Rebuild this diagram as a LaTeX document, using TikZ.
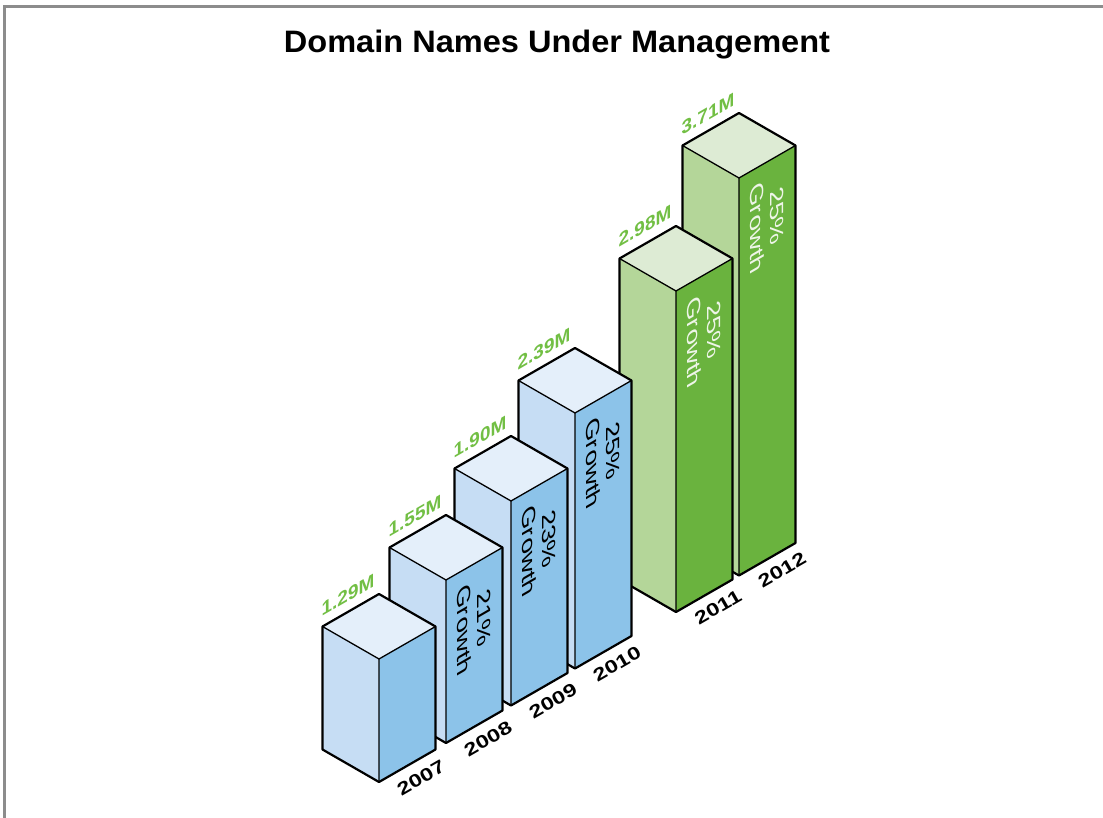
\documentclass[tikz,border=0pt]{standalone}
\usepackage{fontspec}
\setmainfont{Liberation Sans}
\definecolor{bluetop}{HTML}{E4EFFA}
\definecolor{blueleft}{HTML}{C6DDF4}
\definecolor{blueright}{HTML}{8CC3E9}
\definecolor{greentop}{HTML}{DDEBD4}
\definecolor{greenleft}{HTML}{B4D699}
\definecolor{greenright}{HTML}{6AB33E}
\definecolor{valgreen}{HTML}{72BF44}
\definecolor{framegray}{HTML}{8C8C8C}
\definecolor{growthwhite}{HTML}{EEF5E8}
\newcommand{\drawbar}[6]{%
  \fill[#4] (#1,#2) -- ({#1-56.5},{#2-32.5}) -- ({#1-56.5},{#2-32.5-#3}) -- (#1,{#2-#3}) -- cycle;
  \fill[#5] (#1,#2) -- ({#1+56.5},{#2-32.5}) -- ({#1+56.5},{#2-32.5-#3}) -- (#1,{#2-#3}) -- cycle;
  \fill[#6] (#1,{#2-#3}) -- ({#1-56.5},{#2-32.5-#3}) -- (#1,{#2-65-#3}) -- ({#1+56.5},{#2-32.5-#3}) -- cycle;
  \draw[inneredge] ({#1-56.5},{#2-32.5-#3}) -- (#1,{#2-#3}) -- ({#1+56.5},{#2-32.5-#3}) (#1,{#2-#3}) -- (#1,#2);
  \draw[outeredge] (#1,#2) -- ({#1-56.5},{#2-32.5}) -- ({#1-56.5},{#2-32.5-#3}) -- (#1,{#2-65-#3}) -- ({#1+56.5},{#2-32.5-#3}) -- ({#1+56.5},{#2-32.5}) -- cycle;
}
\begin{document}
\begin{tikzpicture}[x=1pt,y=-1pt,
  outeredge/.style={draw=black,line width=2.2pt,line join=round},
  inneredge/.style={draw=black,line width=1.3pt,line join=round},
  frameline/.style={draw=framegray,line width=3pt},
  titletext/.style={font=\bfseries\fontsize{31}{36}\selectfont,anchor=base,xscale=1.05,inner sep=0pt},
  valuelabel/.style={font=\bfseries\fontsize{19}{22}\selectfont,text=valgreen,inner sep=0pt,transform shape,cm={0.996,0.575,0,1,(0,0)}},
  growthlabel/.style={font=\fontsize{22}{24}\selectfont,align=center,inner sep=0pt,transform shape,cm={0,-1.25,0.866,0.5,(0,0)}},
  yearlabel/.style={font=\bfseries\fontsize{18}{21}\selectfont,inner sep=0pt,transform shape,cm={1.126,0.65,-0.5,0.866,(0,0)}}
]
\useasboundingbox (0,0) rectangle (1103,818);
\fill[white] (0,0) rectangle (1103,818);
\draw[frameline] (4.5,1130) -- (4.5,6.5) -- (1130,6.5);

\node[titletext] (title) at (557,53) {Domain Names Under Management};

% bars, back to front
\drawbar{739}{575.5}{397.5}{greenleft}{greenright}{greentop}
\drawbar{676}{612}{321}{greenleft}{greenright}{greentop}
\drawbar{575}{668.5}{255.5}{blueleft}{blueright}{bluetop}
\drawbar{511}{705.5}{204.5}{blueleft}{blueright}{bluetop}
\drawbar{446}{743}{163}{blueleft}{blueright}{bluetop}
\drawbar{379}{782}{123}{blueleft}{blueright}{bluetop}

% value labels
\begin{scope}[shift={(348,595)}]\node[valuelabel] (v2007) at (0,0) {1.29M};\end{scope}
\begin{scope}[shift={(415,516)}]\node[valuelabel] (v2008) at (0,0) {1.55M};\end{scope}
\begin{scope}[shift={(480,437)}]\node[valuelabel] (v2009) at (0,0) {1.90M};\end{scope}
\begin{scope}[shift={(544,349)}]\node[valuelabel] (v2010) at (0,0) {2.39M};\end{scope}
\begin{scope}[shift={(645,226)}]\node[valuelabel] (v2011) at (0,0) {2.98M};\end{scope}
\begin{scope}[shift={(708,114)}]\node[valuelabel] (v2012) at (0,0) {3.71M};\end{scope}

% growth labels
\begin{scope}[shift={(474,624)}]\node[growthlabel,text=black] (g2008) at (0,0) {21\%\\Growth};\end{scope}
\begin{scope}[shift={(539,545)}]\node[growthlabel,text=black] (g2009) at (0,0) {23\%\\Growth};\end{scope}
\begin{scope}[shift={(603,457)}]\node[growthlabel,text=black] (g2010) at (0,0) {25\%\\Growth};\end{scope}
\begin{scope}[shift={(704,336)}]\node[growthlabel,text=growthwhite] (g2011) at (0,0) {25\%\\Growth};\end{scope}
\begin{scope}[shift={(767,222)}]\node[growthlabel,text=growthwhite] (g2012) at (0,0) {25\%\\Growth};\end{scope}

% year labels
\begin{scope}[shift={(421,778)}]\node[yearlabel] (y2007) at (0,0) {2007};\end{scope}
\begin{scope}[shift={(488,739)}]\node[yearlabel] (y2008) at (0,0) {2008};\end{scope}
\begin{scope}[shift={(553,701)}]\node[yearlabel] (y2009) at (0,0) {2009};\end{scope}
\begin{scope}[shift={(617,664)}]\node[yearlabel] (y2010) at (0,0) {2010};\end{scope}
\begin{scope}[shift={(718,607)}]\node[yearlabel] (y2011) at (0,0) {2011};\end{scope}
\begin{scope}[shift={(782,570)}]\node[yearlabel] (y2012) at (0,0) {2012};\end{scope}
\end{tikzpicture}
\end{document}
